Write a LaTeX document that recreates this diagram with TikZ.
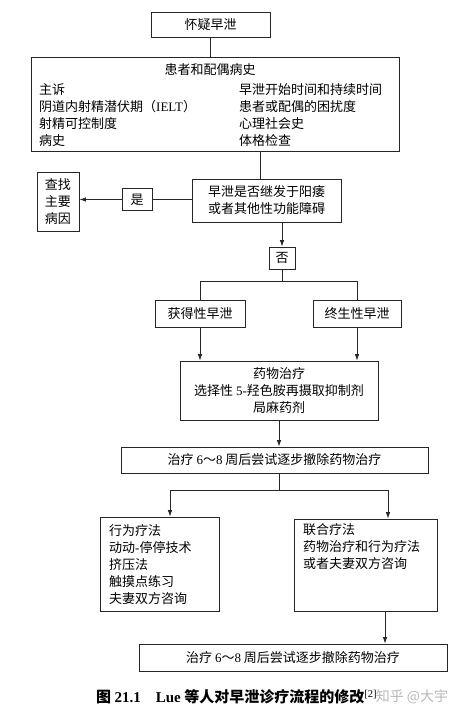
\documentclass[tikz,border=0pt]{standalone}
\usepackage{fontspec}
\setmainfont{Noto Sans CJK SC}
\newfontfamily\lat{Liberation Serif}
\usetikzlibrary{arrows.meta}
\begin{document}
\begin{tikzpicture}[x=1pt,y=-1pt,
  box/.style={draw=black!85, line width=0.8pt, inner sep=0pt, align=center,
              font=\fontsize{13}{17}\selectfont},
  txt/.style={inner sep=0pt, align=left, font=\fontsize{13}{17}\selectfont},
  ln/.style={draw=black!85, line width=0.8pt},
  arr/.style={ln, -{Latex[length=6.5pt,width=4.5pt]}}]
\useasboundingbox (0,0) rectangle (458,718);
% boxes
\node[box, minimum width=119pt, minimum height=25pt] (b1) at (210.5,24.5) {怀疑早泄};
\node[box, minimum width=368pt, minimum height=94pt] (b2) at (215,104) {};
\node[txt] (b2t) at (210,70) {患者和配偶病史};
\node[txt, anchor=west] (b2l) at (39,115.5) {主诉\\阴道内射精潜伏期（{\lat IELT}）\\射精可控制度\\病史};
\node[txt, anchor=west] (b2r) at (239,115.5) {早泄开始时间和持续时间\\患者或配偶的困扰度\\心理社会史\\体格检查};
\node[box, minimum width=149pt, minimum height=43pt] (b3) at (266.5,200.5) {早泄是否继发于阳痿\\或者其他性功能障碍};
\node[box, minimum width=30pt, minimum height=22pt] (yes) at (137,199.5) {是};
\node[box, minimum width=42pt, minimum height=59pt] (find) at (58,201.5) {查找\\主要\\病因};
\node[box, minimum width=26pt, minimum height=22pt] (no) at (282,258) {否};
\node[box, minimum width=90pt, minimum height=27pt] (acq) at (200,313.5) {获得性早泄};
\node[box, minimum width=88pt, minimum height=27pt] (life) at (357,313.5) {终生性早泄};
\node[box, minimum width=198pt, minimum height=59pt] (drug) at (279,390.5) {药物治疗\\选择性 {\lat 5-}羟色胺再摄取抑制剂\\局麻药剂};
\node[box, minimum width=307pt, minimum height=26pt] (wd1) at (274.5,460) {治疗 {\lat 6}～{\lat 8} 周后尝试逐步撤除药物治疗};
\node[box, minimum width=119pt, minimum height=94pt] (beh) at (159.5,564) {};
\node[txt, anchor=west] (beht) at (109,564.5) {行为疗法\\动动{\lat -}停停技术\\挤压法\\触摸点练习\\夫妻双方咨询};
\node[box, minimum width=143pt, minimum height=92pt] (comb) at (365.5,565) {};
\node[txt, anchor=west] (combt) at (303,547) {联合疗法\\药物治疗和行为疗法\\或者夫妻双方咨询};
\node[box, minimum width=308pt, minimum height=27pt] (wd2) at (293,657.5) {治疗 {\lat 6}～{\lat 8} 周后尝试逐步撤除药物治疗};
% caption
\node[inner sep=0pt, anchor=west, font=\fontsize{15}{15}\selectfont\bfseries] (cap) at (96,697)
  {图 {\lat 21.1}\quad {\lat Lue} 等人对早泄诊疗流程的修改{\lat\mdseries\textsuperscript{[2]}}};
\node[inner sep=0pt, text=black!28, font=\fontsize{14}{14}\selectfont] (wm) at (412,697) {知乎 @大宇};
% helper coordinates
\coordinate (c23) at (260,0);
\coordinate (xa) at (170,0);
\coordinate (xb) at (388,0);
\coordinate (xm) at (279,0);
\coordinate (xc) at (385,0);
% connectors
\draw[ln] (b1.south) -- (b2.north -| b1.south);
\draw[ln] (b2.south -| c23) -- (b3.north -| c23);
\draw[ln] (b3.west |- yes.east) -- (yes.east);
\draw[arr] (yes.west) -- (yes.west -| find.east);
\draw[arr] (b3.south -| no.north) -- (no.north);
\draw[ln] (no.south) -- ++(0,12) coordinate (nb);
\draw[ln] (nb) -| (acq.north);
\draw[ln] (nb) -| (life.north);
\draw[arr] (acq.south) -- (acq.south |- drug.north);
\draw[arr] (life.south) -- (life.south |- drug.north);
\draw[arr] (drug.south) -- (drug.south |- wd1.north);
\draw[ln] (wd1.south -| xm) -- ++(0,17) coordinate (wb);
\draw[arr] (wb) -| (beh.north -| xa);
\draw[arr] (wb) -| (comb.north -| xb);
\draw[arr] (comb.south -| xc) -- (wd2.north -| xc);
\end{tikzpicture}
\end{document}
